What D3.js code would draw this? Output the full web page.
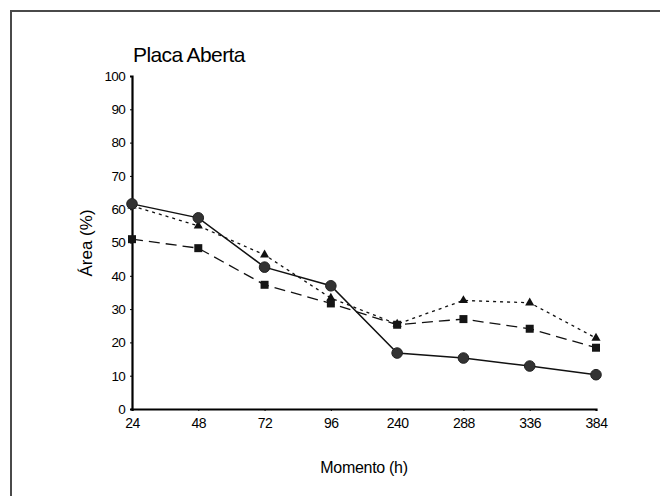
<!DOCTYPE html>
<meta charset="utf-8">
<head>
  <title>Placa Aberta</title>
  <style>
    body { margin: 0; background: #fff; }
    text { font-family: "Liberation Sans", Arial, sans-serif; fill: #000; }
  </style>
</head>
<body>
<script src="https://cdn.jsdelivr.net/npm/d3@7"></script>
<script>

// hours (categorical axis)
const moments = ["24", "48", "72", "96", "240", "288", "336", "384"];

// series, area in %
const circleSeries = [61.6, 57.4, 42.6, 37.0, 16.8, 15.3, 12.9, 10.3];
const triangleSeries = [61.0, 55.0, 46.3, 33.3, 25.5, 32.6, 31.9, 21.3];
const squareSeries = [51.0, 48.3, 37.3, 31.7, 25.3, 27.0, 24.1, 18.4];

const yTicks = [0, 10, 20, 30, 40, 50, 60, 70, 80, 90, 100];

const totalWidth = 660, totalHeight = 496;

const svg = d3.select("body")
  .append("svg")
  .attr("width", totalWidth)
  .attr("height", totalHeight);

// frame
svg.append("rect")
  .attr("x", 11).attr("y", 11)
  .attr("width", 680).attr("height", 520)
  .style("fill", "none")
  .style("stroke", "#4a4a4a")
  .style("stroke-width", 2);

const x = d3.scalePoint()
  .domain(moments)
  .range([132, 596]);

const y = d3.scaleLinear()
  .domain([0, 100])
  .range([409, 76]);

// y axis
const yAxis = svg.append("g")
  .attr("transform", "translate(132,0)")
  .call(d3.axisLeft(y).tickValues(yTicks).tickSize(2).tickPadding(5));
yAxis.select(".domain").style("stroke-width", 2.2).style("stroke", "#000");
yAxis.selectAll("text")
  .style("font-size", "13.5px")
  .style("letter-spacing", "-0.7px");

// x axis
const xAxis = svg.append("g")
  .attr("transform", "translate(0,409)")
  .call(d3.axisBottom(x).tickSize(2).tickPadding(7));
xAxis.select(".domain").style("stroke-width", 2.2).style("stroke", "#000");
xAxis.selectAll("text")
  .style("font-size", "14px")
  .style("letter-spacing", "-0.5px");

function series(values, dash, width) {
  const line = d3.line()
    .x((d, i) => x(moments[i]))
    .y(d => y(d));
  svg.append("path")
    .attr("d", line(values))
    .style("fill", "none")
    .style("stroke", "#111")
    .style("stroke-width", width)
    .style("stroke-dasharray", dash);
}

series(triangleSeries, "3,4", 1.3);
series(squareSeries, "11,6", 1.3);
series(circleSeries, null, 1.5);

// markers
svg.append("g").selectAll("path")
  .data(triangleSeries)
  .join("path")
  .attr("transform", (d, i) => "translate(" + x(moments[i]) + "," + y(d) + ")")
  .attr("d", d3.symbol(d3.symbolTriangle, 36))
  .style("fill", "#111");

svg.append("g").selectAll("rect")
  .data(squareSeries)
  .join("rect")
  .attr("x", (d, i) => x(moments[i]) - 4)
  .attr("y", d => y(d) - 4)
  .attr("width", 8).attr("height", 8)
  .style("fill", "#151515");

svg.append("g").selectAll("circle")
  .data(circleSeries)
  .join("circle")
  .attr("cx", (d, i) => x(moments[i]))
  .attr("cy", d => y(d))
  .attr("r", 5.3)
  .style("fill", "#333")
  .style("stroke", "#222")
  .style("stroke-width", 1);

// title
svg.append("text")
  .attr("x", 133).attr("y", 62)
  .style("font-size", "21px")
  .style("letter-spacing", "-0.6px")
  .text("Placa Aberta");

// axis titles
svg.append("text")
  .attr("transform", "translate(92,243) rotate(-90)")
  .attr("text-anchor", "middle")
  .style("font-size", "17px")
  .text("Área (%)");

svg.append("text")
  .attr("x", 364).attr("y", 473)
  .attr("text-anchor", "middle")
  .style("font-size", "16px")
  .style("letter-spacing", "-0.3px")
  .text("Momento (h)");

</script>
</body>
</html>
